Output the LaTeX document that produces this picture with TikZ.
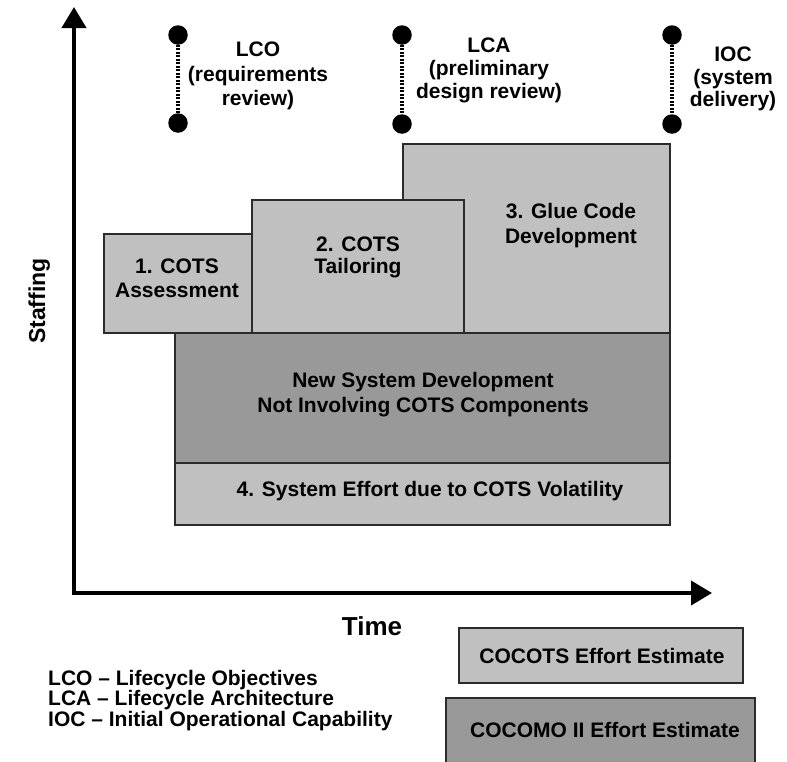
\documentclass[tikz,border=0pt]{standalone}
\usepackage{fontspec}
\setmainfont{Liberation Sans}
\usetikzlibrary{arrows.meta}
\definecolor{lightfill}{HTML}{C0C0C0}
\definecolor{darkfill}{HTML}{999999}
\definecolor{edge}{HTML}{2B2B2B}
\newcommand{\lbl}[2]{\bfseries\fontsize{#1}{#2}\selectfont}
\begin{document}
\begin{tikzpicture}[x=1pt,y=-1pt,
  every node/.style={inner sep=0pt, font=\lbl{21}{23.5}},
  lightbox/.style={draw=edge, line width=2pt, fill=lightfill},
  darkbox/.style={draw=edge, line width=2pt, fill=darkfill},
  axis/.style={line width=4pt, line join=miter,
    {Triangle[length=21pt,width=24pt]}-{Triangle[length=21pt,width=24pt]}},
  milestone/.style={circle, fill=black, minimum size=19.5pt},
  span/.style={line width=3.5pt, dash pattern=on 2pt off 1.5pt},
  ]
\useasboundingbox (0,0) rectangle (787,761);
\clip (0,0) rectangle (787,761);
\fill[white] (0,0) rectangle (787,761);

% activity blocks
\path[lightbox] (403,144) rectangle (670,333);
\path[lightbox] (252,200) rectangle (464,333);
\path[lightbox] (104,234) rectangle (252,333);
\path[darkbox]  (175,333) rectangle (670,463);
\path[lightbox] (175,463) rectangle (670,525);

\node[anchor=north, align=center, font=\lbl{21}{24}] (assess) at (177,259) {1. COTS\\Assessment};
\node[anchor=north, align=center, font=\lbl{21}{22}] (tailor) at (358,237) {2. COTS\\Tailoring};
\node[anchor=north, align=center, font=\lbl{21}{25}] (glue) at (571,203) {3. Glue Code\\Development};
\node[anchor=north, align=center, font=\lbl{21}{25}] (newsys) at (423,372) {New System Development\\Not Involving COTS Components};
\node[anchor=base] (volat) at (430,496) {4. System Effort due to COTS Volatility};

% axes
\coordinate (ytip) at (74,7);
\coordinate (origin) at (74,593);
\coordinate (xtip) at (712,593);
\draw[axis] (ytip) -- (origin) -- (xtip);
\node[anchor=base, font=\lbl{26}{30}] (time) at (372,635) {Time};
\node[anchor=base, rotate=90, font=\lbl{23}{28}] (staff) at (45,301) {Staffing};

% milestones
\node[milestone] (lcoA) at (178,35) {};
\node[milestone] (lcoB) at (178,123) {};
\draw[span] (lcoA) -- (lcoB);
\node[milestone] (lcaA) at (402,35) {};
\node[milestone] (lcaB) at (402,124) {};
\draw[span] (lcaA) -- (lcaB);
\node[milestone] (iocA) at (672,35) {};
\node[milestone] (iocB) at (672,124) {};
\draw[span] (iocA) -- (iocB);

\node[anchor=north, align=center, font=\lbl{21}{24.5}] (lcoT) at (258,42) {LCO\\(requirements\\review)};
\node[anchor=north, align=center, font=\lbl{21}{23}] (lcaT) at (489,38) {LCA\\(preliminary\\design review)};
\node[anchor=north, align=center, font=\lbl{21}{22.5}] (iocT) at (733,47) {IOC\\(system\\delivery)};

% legend
\path[lightbox] (459,628) rectangle (743,683);
\node[anchor=base] (cocots) at (602,663) {COCOTS Effort Estimate};
\path[darkbox] (446,698) rectangle (755,775);
\node[anchor=base] (cocomo) at (605,737) {COCOMO II Effort Estimate};
\node[anchor=north west, align=left, font=\lbl{21}{20.5}] (abbr) at (48,670)
  {LCO -- Lifecycle Objectives\\LCA -- Lifecycle Architecture\\IOC -- Initial Operational Capability};
\end{tikzpicture}
\end{document}
